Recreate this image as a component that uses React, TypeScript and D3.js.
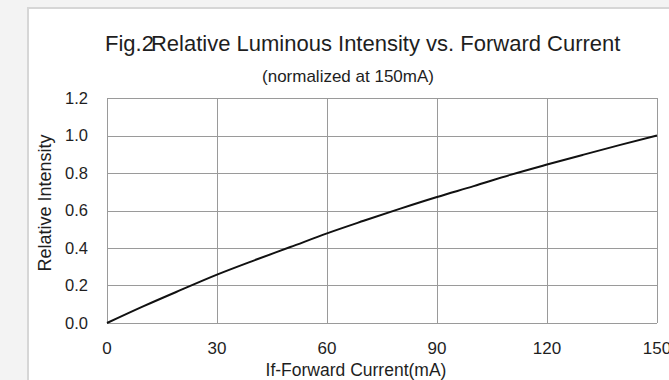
import React, { useEffect, useRef } from 'react';
import * as d3 from 'd3';

// forward current (mA) vs relative intensity
const CURRENT_MA = [0, 10, 20, 30, 40, 50, 60, 70, 80, 90, 100, 110, 120, 130, 140, 150];
const REL_INTENSITY = [0, 0.09, 0.175, 0.258, 0.333, 0.405, 0.478, 0.545, 0.61, 0.672, 0.73, 0.79, 0.845, 0.898, 0.95, 1.0];

const X_TICKS = [0, 30, 60, 90, 120, 150];
const Y_TICKS = [0, 0.2, 0.4, 0.6, 0.8, 1.0, 1.2];

const TITLE = 'Fig.2';
const TITLE_REST = 'Relative Luminous Intensity vs. Forward Current';
const SUBTITLE = '(normalized at 150mA)';
const X_LABEL = 'If-Forward Current(mA)';
const Y_LABEL = 'Relative Intensity';

const App = () => {
    const width = 669;
    const height = 380;
    const margin = { top: 98, right: 12, bottom: 57, left: 107 };
    const svgRef = useRef<SVGSVGElement>(null);

    useEffect(() => {
        const svg = d3.select(svgRef.current);
        svg.selectAll('*').remove();

        const font = "'Liberation Sans', Arial, sans-serif";
        const ink = '#1e1e1e';

        // background + white panel
        svg.append('rect').attr('width', width).attr('height', height).attr('fill', '#f3f3f3');
        svg.append('rect')
            .attr('x', 28).attr('y', 8)
            .attr('width', width).attr('height', height)
            .attr('fill', '#ffffff')
            .attr('stroke', '#d6d6d6')
            .attr('stroke-width', 2);

        const x = d3.scaleLinear().domain([0, 150]).range([margin.left, width - margin.right]);
        const y = d3.scaleLinear().domain([0, 1.2]).range([height - margin.bottom, margin.top]);

        // grid
        const grid = svg.append('g').attr('stroke', '#9a9a9a').attr('stroke-width', 1);
        Y_TICKS.forEach(t => {
            grid.append('line')
                .attr('x1', x(0)).attr('x2', x(150))
                .attr('y1', Math.round(y(t)) + 0.5).attr('y2', Math.round(y(t)) + 0.5);
        });
        X_TICKS.forEach(t => {
            grid.append('line')
                .attr('x1', Math.round(x(t)) + 0.5).attr('x2', Math.round(x(t)) + 0.5)
                .attr('y1', y(0)).attr('y2', y(1.2));
        });

        // tick labels
        svg.append('g').selectAll('text').data(Y_TICKS).enter().append('text')
            .attr('x', x(0) - 19)
            .attr('y', d => y(d))
            .attr('dy', '0.36em')
            .attr('text-anchor', 'end')
            .attr('font-family', font).attr('font-size', 16.5).attr('fill', ink)
            .text(d => d.toFixed(1));

        svg.append('g').selectAll('text').data(X_TICKS).enter().append('text')
            .attr('x', d => x(d))
            .attr('y', 354)
            .attr('text-anchor', 'middle')
            .attr('font-family', font).attr('font-size', 17).attr('fill', ink)
            .text(d => String(d));

        // curve
        const line = d3.line<number>()
            .x((d, i) => x(CURRENT_MA[i]))
            .y(d => y(d))
            .curve(d3.curveMonotoneX);

        svg.append('path')
            .datum(REL_INTENSITY)
            .attr('d', line)
            .attr('fill', 'none')
            .attr('stroke', '#111')
            .attr('stroke-width', 2);

        // titles
        const title = svg.append('text')
            .attr('x', 105).attr('y', 51)
            .attr('font-family', font).attr('font-size', 22).attr('fill', ink);
        title.append('tspan').text(TITLE);
        title.append('tspan').attr('dx', -3).text(TITLE_REST);

        svg.append('text')
            .attr('x', 348).attr('y', 82)
            .attr('text-anchor', 'middle')
            .attr('font-family', font).attr('font-size', 17).attr('fill', ink)
            .text(SUBTITLE);

        svg.append('text')
            .attr('x', 356).attr('y', 376)
            .attr('text-anchor', 'middle')
            .attr('font-family', font).attr('font-size', 17.5).attr('fill', ink)
            .text(X_LABEL);

        svg.append('text')
            .attr('transform', 'translate(51 203) rotate(-90)')
            .attr('text-anchor', 'middle')
            .attr('font-family', font).attr('font-size', 18).attr('fill', ink)
            .text(Y_LABEL);
    }, []);

    return <div style={{ position: 'fixed', left: 0, top: 0 }}>
        <svg ref={svgRef} width={width} height={height} style={{ display: 'block' }} />
    </div>;
};

export default App;
